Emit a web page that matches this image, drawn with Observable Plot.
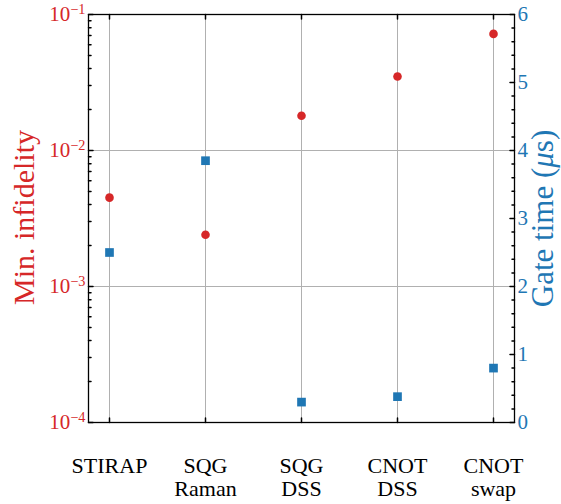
<!DOCTYPE html>
<html><head><meta charset="utf-8">
<script src="https://cdn.jsdelivr.net/npm/d3@7"></script>
<script src="https://cdn.jsdelivr.net/npm/@observablehq/plot@0.6"></script>
<style>body{margin:0;background:#fff}</style>
</head><body><div id="chart"></div>
<script>
const categories = ["STIRAP", "SQG Raman", "SQG DSS", "CNOT DSS", "CNOT swap"];
const categoryLabels = ["STIRAP", "SQG\nRaman", "SQG\nDSS", "CNOT\nDSS", "CNOT\nswap"];
const minInfidelity = [4.5e-3, 2.4e-3, 1.8e-2, 3.5e-2, 7.2e-2];
const gateTime = [2.5, 3.85, 0.3, 0.38, 0.8];
const leftTicks = [1e-4, 1e-3, 1e-2, 1e-1];
const rightTicks = [0, 1, 2, 3, 4, 5, 6];
const leftDomain = [1e-4, 1e-1];
const rightDomain = [0, 6];

const RED = "#d62728", BLUE = "#1f77b4", GRID = "#b0b0b0";
const FONT = "'Liberation Serif', 'DejaVu Serif', serif";

// map gate time (linear right axis) into the left log scale space
const lo = Math.log10(leftDomain[0]), hi = Math.log10(leftDomain[1]);
const toY = t => Math.pow(10, lo + (t - rightDomain[0]) / (rightDomain[1] - rightDomain[0]) * (hi - lo));
const fromY = v => (Math.log10(v) - lo) / (hi - lo) * (rightDomain[1] - rightDomain[0]) + rightDomain[0];

const infData = categories.map((c, i) => ({cat: c, v: minInfidelity[i]}));
const timeData = categories.map((c, i) => ({cat: c, v: toY(gateTime[i])}));

const leftMinor = [];
for (const d of [1e-4, 1e-3, 1e-2]) for (let k = 2; k <= 9; k++) leftMinor.push(k * d);
const rightMinor = [];
for (let t = 0; t < 6; t++) for (let k = 1; k <= 4; k++) rightMinor.push(toY(t + k * 0.2));

const tickRight = {draw(ctx, l) { ctx.moveTo(0, 0); ctx.lineTo(l, 0); }};
const tickLeft = {draw(ctx, l) { ctx.moveTo(0, 0); ctx.lineTo(-l, 0); }};
const tickDown = {draw(ctx, l) { ctx.moveTo(0, 0); ctx.lineTo(0, l); }};
const tickUp = {draw(ctx, l) { ctx.moveTo(0, 0); ctx.lineTo(0, -l); }};

const labelMap = new Map(categories.map((c, i) => [c, categoryLabels[i]]));

const chart = Plot.plot({
  width: 561,
  height: 504,
  marginLeft: 88,
  marginRight: 47,
  marginTop: 14,
  marginBottom: 82,
  style: {fontFamily: FONT, fontSize: "21px", background: "#fff"},
  x: {type: "point", domain: categories, padding: 0.2},
  y: {type: "log", domain: leftDomain},
  marks: [
    Plot.gridX(categories, {stroke: GRID, strokeOpacity: 1, strokeWidth: 1}),
    Plot.gridY([1e-3, 1e-2], {stroke: GRID, strokeOpacity: 1, strokeWidth: 1}),
    // inward ticks
    Plot.vectorY(leftTicks, {frameAnchor: "left", length: 4.5, anchor: "start", shape: tickRight, stroke: "black"}),
    Plot.vectorY(leftMinor, {frameAnchor: "left", length: 2.5, anchor: "start", shape: tickRight, stroke: "black"}),
    Plot.vectorY(rightTicks.map(toY), {frameAnchor: "right", length: 4.5, anchor: "start", shape: tickLeft, stroke: "black"}),
    Plot.vectorY(rightMinor, {frameAnchor: "right", length: 2.5, anchor: "start", shape: tickLeft, stroke: "black"}),
    Plot.vectorX(categories, {frameAnchor: "top", length: 4.5, anchor: "start", shape: tickDown, stroke: "black"}),
    Plot.vectorX(categories, {frameAnchor: "bottom", length: 4.5, anchor: "start", shape: tickUp, stroke: "black"}),
    Plot.frame({stroke: "black", strokeWidth: 1.3}),
    // axis labels
    Plot.axisY({anchor: "left", ticks: leftTicks, tickSize: 0, tickPadding: 3, label: null,
      tickFormat: d => "10^" + Math.round(Math.log10(d)), color: RED, fontSize: 21}),
    Plot.axisY({anchor: "right", ticks: rightTicks.map(toY), tickSize: 0, tickPadding: 3, label: null,
      tickFormat: d => String(Math.round(fromY(d))), color: BLUE, fontSize: 21}),
    Plot.axisX({anchor: "bottom", tickSize: 0, tickPadding: 34, label: null,
      tickFormat: c => labelMap.get(c), fontSize: 22, lineHeight: 1.05, color: "black"}),
    Plot.text(["Min. infidelity"], {text: d => d, frameAnchor: "left", dx: -64, dy: -1, rotate: -90,
      fill: RED, fontSize: 30, textAnchor: "middle", lineAnchor: "middle"}),
    Plot.text(["Gate time (μs)"], {text: d => d, frameAnchor: "right", dx: 29, dy: 0, rotate: -90,
      fill: BLUE, fontSize: 31, textAnchor: "middle", lineAnchor: "middle"}),
    // data
    Plot.dot(infData, {x: "cat", y: "v", r: 4.3, fill: RED, stroke: "none", symbol: "circle"}),
    Plot.dot(timeData, {x: "cat", y: "v", r: 4.9, fill: BLUE, stroke: "none", symbol: "square"})
  ]
});

// superscript exponents on log tick labels
const svgns = "http://www.w3.org/2000/svg";
chart.querySelectorAll("text").forEach(t => {
  if (t.children.length) return;
  const m = t.textContent.match(/^10\^(-?\d+)$/);
  if (m) {
    t.textContent = "10";
    const ts = document.createElementNS(svgns, "tspan");
    ts.setAttribute("dy", "-0.5em");
    ts.setAttribute("font-size", "0.68em");
    ts.textContent = m[1].replace("-", "\u2212");
    t.appendChild(ts);
  } else if (t.textContent === "Gate time (μs)") {
    t.textContent = "Gate time (";
    const mu = document.createElementNS(svgns, "tspan");
    mu.setAttribute("font-style", "italic");
    mu.textContent = "μ";
    t.appendChild(mu);
    const rest = document.createElementNS(svgns, "tspan");
    rest.textContent = "s)";
    t.appendChild(rest);
  }
});

document.getElementById("chart").appendChild(chart);
</script>
</body></html>
